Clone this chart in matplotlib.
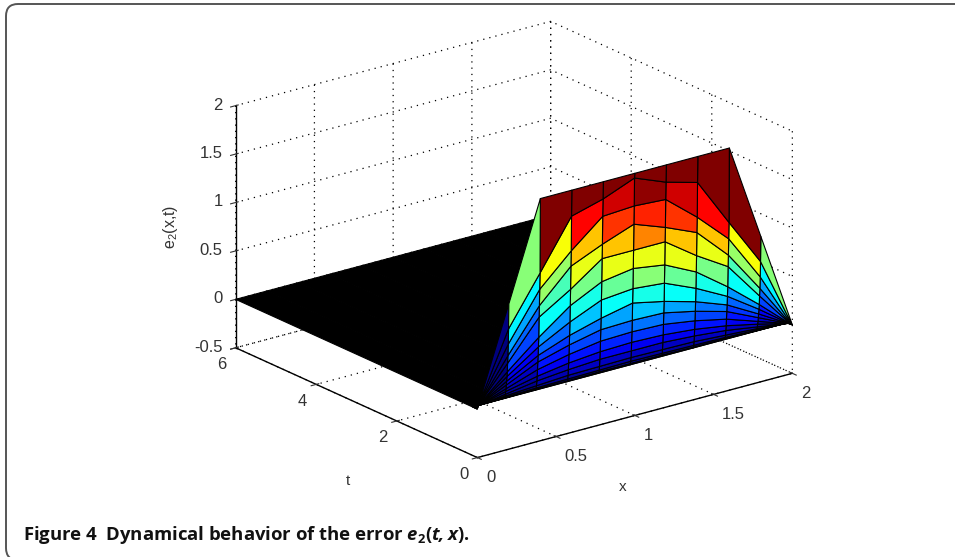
import numpy as np
import matplotlib
matplotlib.use("Agg")
import matplotlib.pyplot as plt
from matplotlib.colors import LinearSegmentedColormap
from matplotlib.patches import FancyBboxPatch

x_vals = [0, 0.2, 0.4, 0.6, 0.8, 1.0, 1.2, 1.4, 1.6, 1.8, 2.0]
t_vals = [0, 0.008, 0.016, 0.024, 0.032, 0.04, 0.048, 0.056, 0.064, 0.072, 0.08,
          0.088, 0.096, 0.104, 0.112, 0.12, 6]

# one row per t
e2_vals = [
    [0, 1.00, 2.00, 2.00, 2.00, 2.00, 2.00, 2.00, 2.00, 1.00, 0],
    [0, 0.74, 1.23, 1.73, 1.82, 1.95, 1.82, 1.73, 1.23, 0.74, 0],
    [0, 0.58, 1.06, 1.37, 1.64, 1.66, 1.64, 1.37, 1.06, 0.58, 0],
    [0, 0.46, 0.89, 1.21, 1.35, 1.47, 1.35, 1.21, 0.89, 0.46, 0],
    [0, 0.38, 0.77, 0.97, 1.20, 1.20, 1.20, 0.97, 0.77, 0.38, 0],
    [0, 0.29, 0.56, 0.80, 0.96, 1.01, 0.96, 0.80, 0.56, 0.29, 0],
    [0, 0.24, 0.46, 0.63, 0.77, 0.80, 0.77, 0.63, 0.46, 0.24, 0],
    [0, 0.19, 0.37, 0.49, 0.58, 0.65, 0.58, 0.49, 0.37, 0.19, 0],
    [0, 0.15, 0.30, 0.39, 0.46, 0.47, 0.46, 0.39, 0.30, 0.15, 0],
    [0, 0.11, 0.22, 0.29, 0.34, 0.35, 0.34, 0.29, 0.22, 0.11, 0],
    [0, 0.08, 0.15, 0.20, 0.23, 0.24, 0.23, 0.20, 0.15, 0.08, 0],
    [0, 0.05, 0.10, 0.13, 0.15, 0.15, 0.15, 0.13, 0.10, 0.05, 0],
    [0, 0.03, 0.05, 0.07, 0.075, 0.08, 0.075, 0.07, 0.05, 0.03, 0],
    [0, 0.015, 0.025, 0.03, 0.035, 0.04, 0.035, 0.03, 0.025, 0.015, 0],
    [0, 0.005, 0.01, 0.01, 0.015, 0.015, 0.015, 0.01, 0.01, 0.005, 0],
    [0, 0, 0, 0, 0, 0, 0, 0, 0, 0, 0],
    [0, 0, 0, 0, 0, 0, 0, 0, 0, 0, 0],
]

x_ticks = [0, 0.5, 1, 1.5, 2]
x_ticklabels = ["0", "0.5", "1", "1.5", "2"]
t_ticks = [0, 2, 4, 6]
z_ticks = [-0.5, 0, 0.5, 1, 1.5, 2]
z_ticklabels = ["-0.5", "0", "0.5", "1", "1.5", "2"]

plt.rcParams["font.family"] = "Liberation Sans"
plt.rcParams["mathtext.fontset"] = "custom"
plt.rcParams["mathtext.rm"] = "Open Sans:bold"
plt.rcParams["mathtext.bf"] = "Open Sans:bold"
plt.rcParams["mathtext.bfit"] = "Open Sans:italic:bold"
plt.rcParams["mathtext.default"] = "regular"
plt.rcParams["grid.linestyle"] = (0, (1, 4))
plt.rcParams["grid.color"] = "black"
plt.rcParams["grid.linewidth"] = 0.9

# matlab's jet, matplotlib's own differs a bit
matlab_jet = LinearSegmentedColormap("matlab_jet", {
    "red": [(0, 0, 0), (0.375, 0, 0), (0.625, 1, 1), (0.875, 1, 1), (1, 0.5, 0.5)],
    "green": [(0, 0, 0), (0.125, 0, 0), (0.375, 1, 1), (0.625, 1, 1), (0.875, 0, 0), (1, 0, 0)],
    "blue": [(0, 0.5, 0.5), (0.125, 1, 1), (0.375, 1, 1), (0.625, 0, 0), (1, 0, 0)],
}, N=64)

fig = plt.figure(figsize=(9.55, 5.57), dpi=100)

# frame in pixels
frame = FancyBboxPatch((6, -3), 1100, 556, boxstyle="round,pad=0,rounding_size=12",
                       transform=None, facecolor="white", edgecolor="#555555",
                       linewidth=1.4, zorder=-1)
fig.add_artist(frame)

ax = fig.add_axes([0.2156, 0.0169, 600 / 955, 600 / 557], projection="3d", proj_type="ortho")
ax.patch.set_visible(False)
ax.view_init(elev=20.4, azim=-127.5)
ax.set_box_aspect((398, 398, 259), zoom=1.0)

X, T = np.meshgrid(x_vals, t_vals)
Z = np.array(e2_vals)
colors = matlab_jet(Z / 2.0)
colors[-2:, :, :] = (0, 0, 0, 1)
ax.plot_surface(X, T, Z, facecolors=colors, rstride=1, cstride=1, shade=False,
                edgecolor="black", linewidth=0.8, antialiased=True)

ax.set_xlim(0, 2, view_margin=0)
ax.set_ylim(0, 6, view_margin=0)
ax.set_zlim(-0.5, 2, view_margin=0)
ax.set_xticks(x_ticks, x_ticklabels)
ax.set_yticks(t_ticks)
ax.set_zticks(z_ticks, z_ticklabels)

for axis in (ax.xaxis, ax.yaxis, ax.zaxis):
    axis.pane.set_visible(False)
    axis.line.set_color("black")
    axis.line.set_linewidth(1.0)
ax.tick_params(labelsize=12, colors="#333333")
ax.tick_params(axis="x", pad=0)
ax.tick_params(axis="y", pad=-1.5)
ax.tick_params(axis="z", pad=-2.7)
for lab in ax.xaxis.get_ticklabels():
    lab.set_va("top")
    lab.set_ha("left")
for lab in ax.yaxis.get_ticklabels():
    lab.set_va("top")
    lab.set_ha("right")
for lab in ax.zaxis.get_ticklabels():
    lab.set_va("center")
    lab.set_ha("right")

fig.text(623 / 955, 1 - 487 / 557, "x", fontsize=11, color="#333333", ha="center", va="center")
fig.text(348 / 955, 1 - 481 / 557, "t", fontsize=11, color="#333333", ha="center", va="center")
fig.text(171 / 955, 1 - 227 / 557, "e$_2$(x,t)", fontsize=11.5, color="#333333", ha="center",
         va="center", rotation=90)

fig.text(23 / 955, 1 - 535 / 557, r"Figure 4  Dynamical behavior of the error "
         r"$\mathbfit{e}_{\mathbf{2}}\mathbf{(}\mathbfit{t,x}\mathbf{)}$.",
         fontsize=13.3, fontweight="bold", family="Open Sans", color="#111111", va="center")

fig.savefig("out.png", dpi=100)
